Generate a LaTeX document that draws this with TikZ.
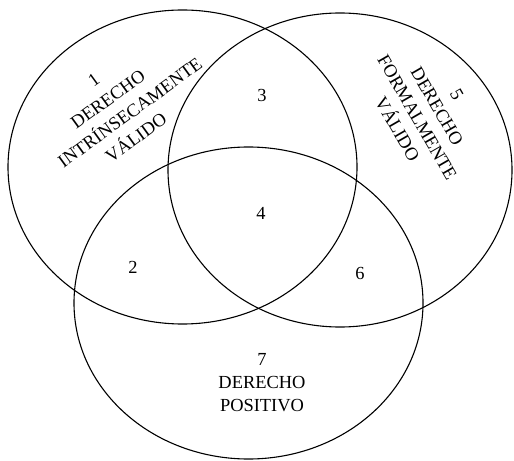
\documentclass[tikz,border=0pt]{standalone}
\usepackage{fontspec}
\setmainfont{Liberation Serif}
\usepackage{tikz}
\usetikzlibrary{positioning}

\begin{document}
\begin{tikzpicture}[
    x=1bp, y=-1bp,
    set/.style={draw, line width=1.1bp},
    lbl/.style={font=\fontsize{18.5}{23}\selectfont, align=center, inner sep=0pt}
]
\useasboundingbox (0,0) rectangle (514,461);

% === Sets ===
\draw[set] (182.5,167) ellipse [x radius=174.5bp, y radius=157bp];
\draw[set] (340,170) ellipse [x radius=172bp, y radius=157bp];
\draw[set] (248.5,303) ellipse [x radius=174.5bp, y radius=156bp];

% === Regions ===
\node[lbl, rotate=36, font=\fontsize{18.5}{24}\selectfont] (intr) at (115,109)
    {1\\DERECHO\\\hspace*{20bp}INTRÍNSECAMENTE\\VÁLIDO};
\node[lbl, rotate=-60] (form) at (427,112) {5\\DERECHO\\FORMALMENTE\\VÁLIDO};
\node[lbl] (posi) at (262,383) {7\\DERECHO\\POSITIVO};

\node[lbl] (r3) at (262,95) {3};
\node[lbl] (r4) at (261,213) {4};
\node[lbl] (r2) at (133,267) {2};
\node[lbl] (r6) at (360,273) {6};

\end{tikzpicture}
\end{document}
